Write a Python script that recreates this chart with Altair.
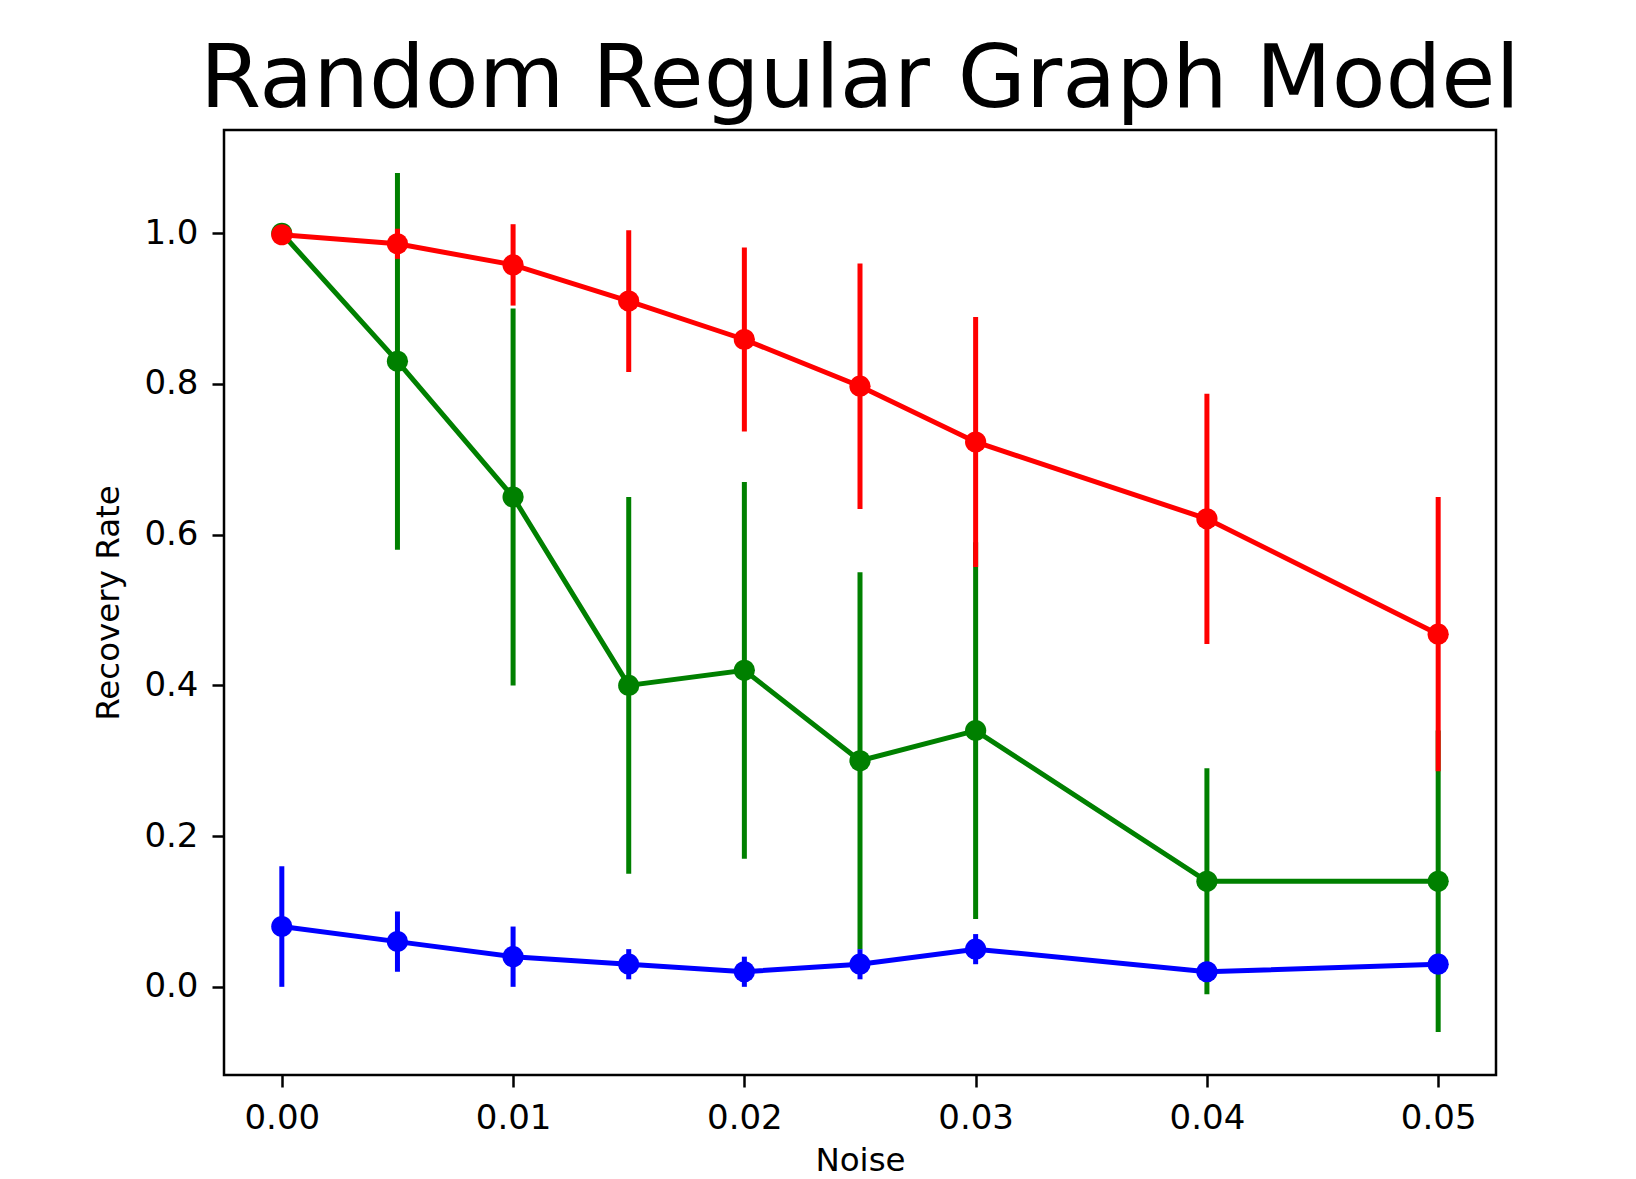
import altair as alt
import pandas as pd

noise = [0.0, 0.005, 0.01, 0.015, 0.02, 0.025, 0.03, 0.04, 0.05]

red_mean = [0.998, 0.986, 0.958, 0.910, 0.859, 0.797, 0.723, 0.621, 0.468]
red_err = [0.0, 0.02, 0.054, 0.094, 0.122, 0.163, 0.166, 0.166, 0.182]

green_mean = [1.0, 0.83, 0.65, 0.40, 0.42, 0.30, 0.34, 0.14, 0.14]
green_err = [0.0, 0.25, 0.25, 0.25, 0.25, 0.25, 0.25, 0.15, 0.20]

blue_mean = [0.08, 0.06, 0.04, 0.03, 0.02, 0.03, 0.05, 0.02, 0.03]
blue_err = [0.08, 0.04, 0.04, 0.02, 0.02, 0.02, 0.02, 0.01, 0.01]

x_ticks = [0.0, 0.01, 0.02, 0.03, 0.04, 0.05]
y_ticks = [0.0, 0.2, 0.4, 0.6, 0.8, 1.0]

series = [
    ("green", green_mean, green_err, "#008000"),
    ("blue", blue_mean, blue_err, "#0000ff"),
    ("red", red_mean, red_err, "#ff0000"),
]

FONT = "DejaVu Sans"

x_enc = alt.X(
    "noise:Q",
    scale=alt.Scale(domain=[-0.0025, 0.0525], nice=False, zero=False),
    axis=alt.Axis(values=x_ticks, format=".2f", title="Noise", titlePadding=9),
)


def y_enc(field):
    return alt.Y(
        f"{field}:Q",
        scale=alt.Scale(domain=[-0.117, 1.137], nice=False, zero=False),
        axis=alt.Axis(values=y_ticks, format=".1f", title="Recovery Rate", titlePadding=18),
    )


layers = []
for name, mean, err, color in series:
    df = pd.DataFrame({
        "noise": noise,
        "mean": mean,
        "lo": [m - e for m, e in zip(mean, err)],
        "hi": [m + e for m, e in zip(mean, err)],
    })
    base = alt.Chart(df)
    rule = base.mark_rule(color=color, strokeWidth=5).encode(
        x=x_enc, y=y_enc("lo"), y2="hi:Q"
    )
    line = base.mark_line(color=color, strokeWidth=5).encode(
        x=x_enc, y=y_enc("mean")
    )
    pts = base.mark_circle(color=color, opacity=1, size=450).encode(
        x=x_enc, y=y_enc("mean")
    )
    layers += [rule, line, pts]

chart = (
    alt.layer(*layers)
    .properties(
        width=1272,
        height=945,
        title=alt.TitleParams(
            "Random Regular Graph Model",
            font=FONT,
            fontSize=88,
            fontWeight="normal",
            color="black",
            anchor="middle",
            baseline="alphabetic",
            offset=-65,
        ),
        autosize=alt.AutoSizeParams(type="none"),
        padding={"left": 216, "top": 122, "right": 120, "bottom": 102},
    )
    .configure_view(stroke="black", strokeWidth=2.5)
    .configure_axis(
        grid=False,
        domain=False,
        tickColor="black",
        tickWidth=2.5,
        tickSize=12,
        labelFont=FONT,
        labelFontSize=34,
        labelColor="black",
        labelPadding=14,
        titleFont=FONT,
        titleFontSize=32.5,
        titleFontWeight="normal",
        titleColor="black",
    )
)

chart.save("out.html", embed_options={"renderer": "svg", "actions": False})
